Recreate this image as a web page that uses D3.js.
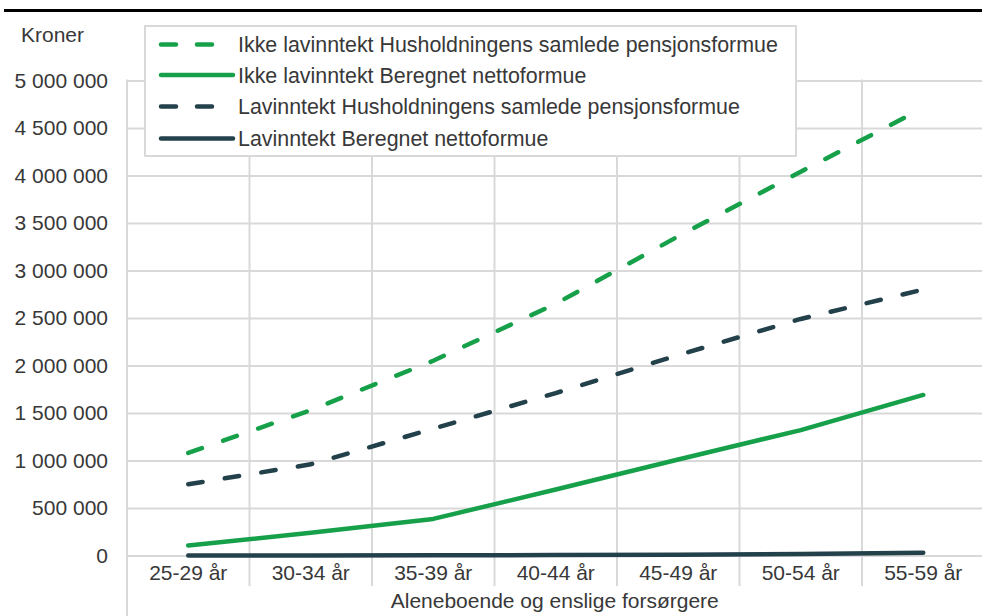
<!DOCTYPE html>
<html>
<head>
<meta charset="utf-8">
<script src="https://cdn.jsdelivr.net/npm/d3@7"></script>
<style>
  html, body { margin: 0; padding: 0; background: #fff; }
  svg { display: block; font-family: "Liberation Sans", Arial, sans-serif; }
</style>
</head>
<body>
<svg id="chart" width="982" height="616"></svg>
<script>
// ---- Data ----
const categories = ["25-29 år", "30-34 år", "35-39 år", "40-44 år", "45-49 år", "50-54 år", "55-59 år"];
const ikkeLavPensjon = [1080000, 1530000, 2050000, 2650000, 3360000, 4040000, 4710000];
const ikkeLavNetto   = [105000, 240000, 385000, 695000, 1010000, 1320000, 1690000];
const lavPensjon     = [750000, 960000, 1335000, 1710000, 2110000, 2490000, 2800000];
const lavNetto       = [0, 1000, 2000, 4000, 8000, 15000, 30000];
const yTicks = [0, 500000, 1000000, 1500000, 2000000, 2500000, 3000000, 3500000, 4000000, 4500000, 5000000];
const seriesNames = [
  "Ikke lavinntekt Husholdningens samlede pensjonsformue",
  "Ikke lavinntekt Beregnet nettoformue",
  "Lavinntekt Husholdningens samlede pensjonsformue",
  "Lavinntekt Beregnet nettoformue"
];
const yUnit = "Kroner";
const xTitle = "Aleneboende og enslige forsørgere";

// ---- Setup ----
const GREEN = "#17a04a", DARK = "#23414a", GRID = "#d9d9d9", TEXT = "#383838";
const FS = 21;
const svg = d3.select("#chart");
svg.append("rect").attr("width", 982).attr("height", 616).attr("fill", "#fff");

const pLeft = 127, pRight = 984.5, pTop = 80.5, pBottom = 555.5;
const x = d3.scaleBand().domain(categories).range([pLeft, pRight]).padding(0);
const y = d3.scaleLinear().domain([0, 5000000]).range([pBottom, pTop]);
const fmt = v => d3.format(",")(v).replace(/,/g, " ");

// top rule
svg.append("line").attr("x1", 4).attr("x2", 982).attr("y1", 10.5).attr("y2", 10.5)
  .attr("stroke", "#000").attr("stroke-width", 3);

// horizontal gridlines
const grid = svg.append("g").attr("transform", `translate(${pLeft},0)`)
  .call(d3.axisLeft(y).tickValues(yTicks).tickSize(-(pRight - pLeft)).tickFormat(""));
grid.select(".domain").remove();
grid.selectAll("line").attr("stroke", GRID).attr("stroke-width", 2);

// vertical category separators
const bounds = categories.map(c => x(c)).concat([x.range()[1]]);
svg.append("g").selectAll("line").data(bounds).join("line")
  .attr("x1", d => d).attr("x2", d => d)
  .attr("y1", pTop - 1).attr("y2", (d, i) => i === 0 ? 616 : 586)
  .attr("stroke", GRID).attr("stroke-width", 2);

// y axis labels
const yAxis = svg.append("g").attr("transform", `translate(${pLeft},0)`)
  .call(d3.axisLeft(y).tickValues(yTicks).tickSize(0).tickPadding(19).tickFormat(fmt));
yAxis.select(".domain").remove();
yAxis.selectAll("text").attr("font-size", FS).attr("fill", TEXT)
  .attr("font-family", "Liberation Sans, Arial, sans-serif");

// x axis labels
const xAxis = svg.append("g").attr("transform", `translate(0,${pBottom})`)
  .call(d3.axisBottom(x).tickSize(0).tickPadding(10));
xAxis.select(".domain").remove();
xAxis.selectAll("text").attr("font-size", FS).attr("fill", TEXT)
  .attr("font-family", "Liberation Sans, Arial, sans-serif");

// titles
svg.append("text").attr("x", 21).attr("y", 42).attr("font-size", FS).attr("fill", TEXT).text(yUnit);
svg.append("text").attr("x", (pLeft + pRight) / 2 - 1).attr("y", 608).attr("text-anchor", "middle")
  .attr("font-size", FS).attr("fill", TEXT).text(xTitle);

// lines
const series = [
  { name: seriesNames[0], values: ikkeLavPensjon, color: GREEN, dashed: true },
  { name: seriesNames[1], values: ikkeLavNetto, color: GREEN, dashed: false },
  { name: seriesNames[2], values: lavPensjon, color: DARK, dashed: true },
  { name: seriesNames[3], values: lavNetto, color: DARK, dashed: false }
];
const line = d3.line().x((d, i) => x(categories[i]) + x.bandwidth() / 2).y(d => y(d));
svg.append("g").selectAll("path").data(series).join("path")
  .attr("d", s => line(s.values))
  .attr("fill", "none").attr("stroke", s => s.color).attr("stroke-width", 4.5)
  .attr("stroke-linecap", "round").attr("stroke-linejoin", "round")
  .attr("stroke-dasharray", s => s.dashed ? "14.5 22.5" : null);

// legend
const lg = svg.append("g");
lg.append("rect").attr("x", 145).attr("y", 26).attr("width", 651).attr("height", 130)
  .attr("fill", "#fff").attr("stroke", GRID).attr("stroke-width", 2);
const rowY = [44.5, 75, 106.5, 138.5];
const items = lg.selectAll("g.item").data(series).join("g").attr("class", "item")
  .attr("transform", (d, i) => `translate(0,${rowY[i]})`);
items.append("line").attr("x1", 161).attr("x2", d => d.dashed ? 217 : 233)
  .attr("y1", 0).attr("y2", 0)
  .attr("stroke", d => d.color).attr("stroke-width", 4.5).attr("stroke-linecap", "round")
  .attr("stroke-dasharray", d => d.dashed ? "15 21" : null);
items.append("text").attr("x", 238).attr("y", 0).attr("dy", "0.35em")
  .attr("font-size", 21.4).attr("fill", TEXT).text(d => d.name);
</script>
</body>
</html>
